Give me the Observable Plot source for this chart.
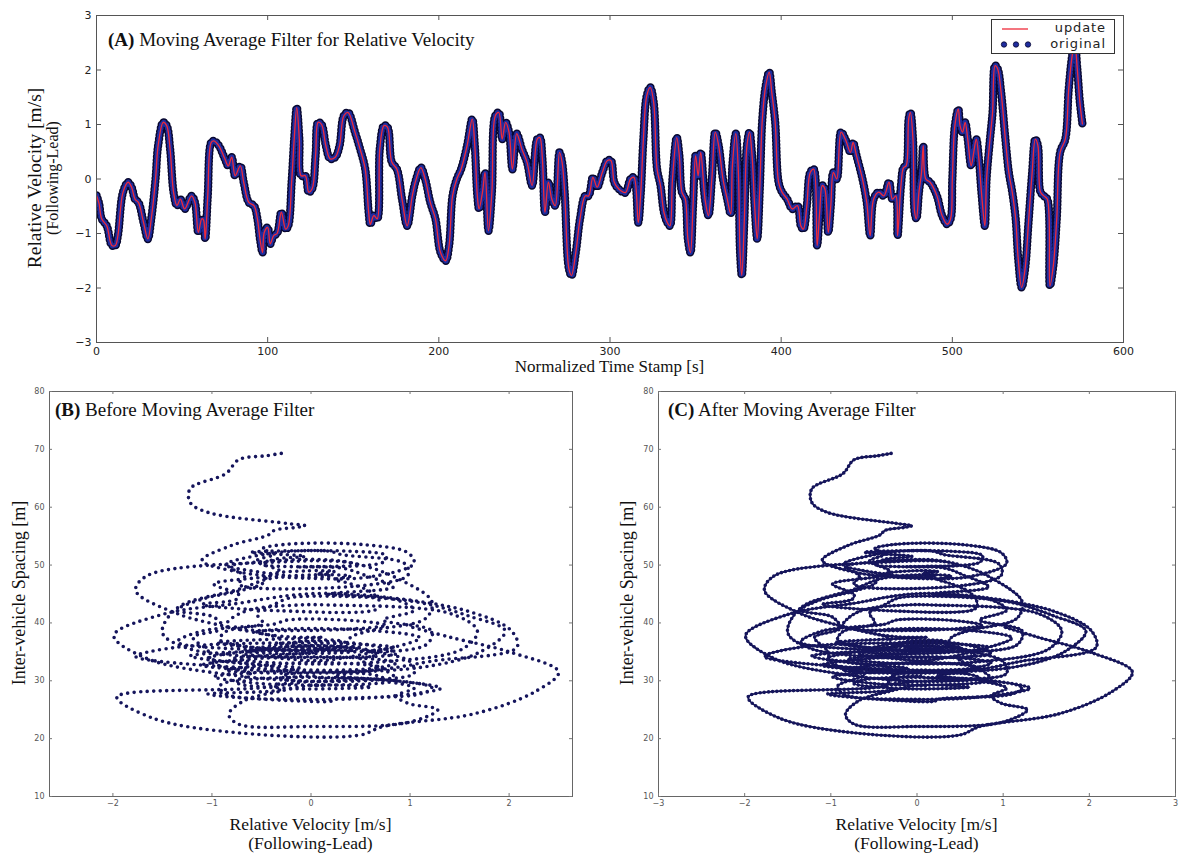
<!DOCTYPE html>
<html>
<head>
<meta charset="utf-8">
<script src="https://cdn.jsdelivr.net/npm/d3@7"></script>
<script src="https://cdn.jsdelivr.net/npm/@observablehq/plot@0.6"></script>
<style>
  html, body { margin: 0; padding: 0; background: #fff; }
  #wrap { position: relative; width: 1180px; height: 854px; overflow: hidden; background: #fff; }
  .abs { position: absolute; }
  .serif { font-family: "Liberation Serif", "Times New Roman", serif; color: #111; white-space: nowrap; }
  .sans { font-family: "DejaVu Sans", sans-serif; color: #222; white-space: nowrap; }
  .rot { transform: rotate(-90deg); transform-origin: 50% 50%; text-align: center; }
  svg { overflow: visible; }
</style>
</head>
<body>
<div id="wrap"></div>
<script>
// ---------- data ----------
const time = [
0,1.5,3,6,9,11,12.5,15.5,18.5,20.5,22.5,24.5,27.5,30,32,34.5,36,39,41,43,
45,47,49,51.5,55.5,57.5,59.5,61.5,62.5,63.5,65,67,68.5,71.5,75,77,79,81,84,86,
89,92,94,95.5,97,98,100,101.5,103.5,105.5,108,110.5,112,114,115.5,117,118.5,119.5,122,124,
126,128,129.5,131.5,134,136.5,139.5,142,144.5,147,151,154,157,159,160,162,164,165.5,168,170,
172.5,175.5,178.5,181.5,184.5,186.5,189.5,192,195,198,201,204,206,208,210.5,213,216.5,219.5,221,222.5,
223.5,225.5,227,229,231,233,235,237,239,241,243,245.5,248.5,251.5,254.5,257.5,259,260.5,262,264,
266,268,270.5,272,273.5,276,277.5,280,282.5,285.5,287.5,290,292.5,295.5,298.5,300.5,302.5,305,309,312,
314,316.5,318,319.5,321.5,323.5,325.5,327.5,329.5,331.5,333.5,335,336.5,339,340.5,342,344,345.5,347,348.5,
350,351.5,353,355.5,357.5,359.5,361.5,363.5,366,368.5,370.5,371.5,373.5,375,376,377,378.5,380,381.5,383,
384.5,386,387.5,389,391,393,394.5,396.5,398.5,400.5,403.5,406.5,409.5,411.5,413,415,417,419,421,422.5,
424,425.5,427.5,429,430.5,432.5,435,437.5,440.5,442,444,447.5,450,452,454,457,460,463,465,467,
468,470,471.5,473,474.5,475.5,477,478,479,480.5,482,483,484.5,487,491,494,497,499,500,501.5,
503.5,504.5,506,507.5,509,511,512.5,514,515.5,517,519,520,522,523.5,525,526.5,528.5,531,533,535,
537,538.5,540.5,542.5,544.5,546.5,548.5,550,551.5,553.5,555.5,557,559,561,563,566,568,570,571.5,573,
574.5,576
];

// relative velocity [m/s] (following - lead)
const velocity = [
-0.30,-0.45,-0.73,-0.86,-1.22,-1.22,-1.04,-0.24,-0.06,-0.15,-0.37,-0.43,-0.80,-1.10,-0.73,0.00,0.61,1.04,0.98,0.55,
-0.24,-0.49,-0.37,-0.55,-0.31,-0.43,-0.98,-0.73,-0.75,-1.10,-0.31,0.67,0.70,0.61,0.37,0.24,0.40,0.06,0.24,-0.06,
-0.43,-0.49,-0.73,-1.10,-1.35,-0.98,-0.89,-1.19,-1.04,-1.00,-0.61,-0.92,-0.86,-0.06,0.73,1.31,0.73,0.06,0.06,-0.24,
-0.18,0.43,1.04,1.00,0.61,0.37,0.40,0.61,1.16,1.22,0.86,0.55,0.18,-0.61,-0.83,-0.67,-0.73,0.55,0.98,0.95,
0.31,0.18,-0.37,-0.86,-0.31,-0.03,0.21,0.00,-0.43,-0.73,-1.35,-1.50,-1.22,-0.31,0.00,0.18,0.61,1.10,0.61,-0.31,
-0.55,-0.24,0.12,-0.95,-0.24,1.16,1.22,0.73,1.04,0.86,0.18,0.83,0.55,0.31,-0.12,0.73,0.76,0.37,-0.61,-0.06,
-0.37,-0.49,0.49,0.31,-0.24,-1.65,-1.77,-1.35,-0.73,-0.31,-0.31,0.03,-0.15,0.12,0.34,0.34,-0.06,-0.18,-0.25,0.00,
0.03,-0.80,-0.24,0.73,1.53,1.68,1.41,0.18,-0.12,-0.61,-0.80,-0.86,0.00,0.76,0.43,-0.24,-0.37,-1.10,-1.35,-0.49,
0.43,0.06,0.49,-0.37,-0.67,0.00,0.86,0.61,0.00,-0.37,-0.64,0.24,0.83,0.12,-1.35,-1.77,-0.73,0.61,0.86,0.43,
-0.49,-1.10,-0.18,1.10,1.71,1.96,1.59,1.04,-0.06,-0.24,-0.37,-0.55,-0.49,-0.86,-0.92,-0.49,0.12,0.18,-1.22,-0.61,
-0.12,-0.18,-0.98,-0.49,0.12,0.00,0.86,0.73,0.49,0.67,0.43,0.00,-0.43,-1.04,-0.37,-0.24,-0.31,-0.06,-0.37,-0.31,
-1.04,-0.12,0.21,0.24,1.10,1.22,0.73,-0.61,-0.73,-0.24,0.12,0.61,0.00,-0.06,-0.31,-0.67,-0.83,-0.73,0.00,0.98,
1.28,0.98,0.86,1.04,0.73,0.24,0.49,0.73,0.37,-0.24,-0.86,0.00,0.73,1.22,2.08,2.02,1.59,0.73,0.12,-0.24,
-0.73,-1.47,-1.99,-1.65,-0.80,0.06,0.73,0.61,-0.24,-0.31,-0.37,-1.96,-1.59,-0.73,0.49,0.73,1.65,2.26,2.50,2.02,
1.41,1.01
];

// inter-vehicle spacing [m]
const spacing = [
69.3,68.9,68.2,65.8,63.2,60.8,59.1,57.2,56.8,56.5,56.0,55.2,53.4,50.8,48.8,47.7,48.0,50.3,52.1,53.5,
53.6,52.8,51.9,50.7,48.9,48.1,46.7,44.9,44.1,43.2,42.1,42.4,43.4,45.3,46.9,47.5,48.1,48.5,48.9,49.0,
48.2,46.8,45.5,44.1,42.2,41.0,39.1,37.5,35.2,33.2,31.1,29.1,27.7,26.8,27.2,28.7,30.2,30.6,30.7,30.5,
30.0,30.2,31.3,33.3,35.2,36.4,37.5,38.7,40.8,43.7,47.8,49.8,50.9,50.4,49.7,48.1,46.7,46.5,48.3,50.2,
51.8,52.4,52.1,50.1,48.3,47.9,48.1,48.3,47.6,45.8,42.6,38.3,35.5,33.9,33.5,33.6,34.9,37.4,38.7,38.9,
38.4,37.6,37.5,36.6,35.4,36.2,38.6,40.5,42.2,44.0,45.0,46.2,48.2,49.5,49.7,50.5,51.6,52.4,52.2,51.5,
51.0,50.1,50.0,50.6,50.6,48.2,45.6,41.6,38.9,37.2,36.5,36.0,35.8,35.6,36.1,36.7,36.9,36.5,35.5,35.0,
34.9,33.8,33.0,33.3,35.5,38.6,41.6,43.1,43.1,42.3,40.8,39.5,38.7,39.6,40.4,40.5,39.8,38.6,36.7,35.3,
35.2,35.5,35.8,35.8,34.7,34.0,34.7,36.1,36.8,36.2,35.1,34.8,35.8,36.5,35.8,34.2,32.3,32.1,33.1,34.0,
33.9,32.7,31.6,32.3,35.0,38.6,41.2,43.7,44.6,44.2,43.2,41.7,40.0,38.5,37.1,35.6,35.2,35.4,34.3,32.8,
32.2,31.9,30.7,29.5,29.2,29.2,30.2,32.0,33.7,34.5,35.6,36.1,35.5,33.9,32.4,31.4,30.4,29.8,29.2,28.5,
27.7,26.5,26.5,26.8,27.7,28.8,30.2,30.2,29.5,28.7,28.6,28.9,29.3,29.1,28.2,26.6,24.2,22.5,22.1,22.8,
25.0,26.1,27.4,28.7,30.0,30.9,31.4,32.2,33.0,33.0,31.8,31.3,32.0,33.4,35.8,38.7,42.0,44.5,45.1,44.7,
43.4,41.6,37.8,33.8,31.0,29.9,30.4,31.1,31.1,30.2,29.2,27.2,23.5,21.0,20.6,22.1,24.3,28.1,31.5,34.9,
37.5,39.3
];

const xTicksA = [0, 100, 200, 300, 400, 500, 600];
const yTicksA = [-3, -2, -1, 0, 1, 2, 3];
const xTicksB = [-2, -1, 0, 1, 2];
const xTicksC = [-3, -2, -1, 0, 1, 2, 3];
const yTicksBC = [10, 20, 30, 40, 50, 60, 70, 80];

const rows = time.map((t, i) => ({t, v: velocity[i], s: spacing[i]}));

const fmt = d => (d < 0 ? "\u2212" : "") + Math.abs(d);
const wrap = document.getElementById("wrap");

function place(node, left, top) {
  node.style.position = "absolute";
  node.style.left = left + "px";
  node.style.top = top + "px";
  wrap.appendChild(node);
}
function addDiv(html, cls, css) {
  const d = document.createElement("div");
  d.className = "abs " + cls;
  d.innerHTML = html;
  Object.assign(d.style, css);
  wrap.appendChild(d);
  return d;
}
function tickMarks(xt, yt, pw, ph, len, stroke) {
  return [
    Plot.tickX(xt, {x: d => d, insetTop: ph - len, stroke}),
    Plot.tickX(xt, {x: d => d, insetBottom: ph - len, stroke}),
    Plot.tickY(yt, {y: d => d, insetRight: pw - len, stroke}),
    Plot.tickY(yt, {y: d => d, insetLeft: pw - len, stroke})
  ];
}

// ---------- Panel A ----------
{
  const W = 1180, H = 390, mL = 96, mR = 57, mT = 15, mB = 48;
  const pw = W - mL - mR, ph = H - mT - mB;
  const chart = Plot.plot({
    width: W, height: H,
    marginLeft: mL, marginRight: mR, marginTop: mT, marginBottom: mB,
    x: {domain: [0, 600]},
    y: {domain: [-3, 3]},
    style: {fontFamily: "DejaVu Sans", fontSize: "11px", color: "#222", background: "transparent"},
    marks: [
      Plot.line(rows, {x: "t", y: "v", curve: "catmull-rom", stroke: "#080830", strokeWidth: 8.4,
        strokeDasharray: "0,3.6", strokeLinecap: "round", clip: true}),
      Plot.line(rows, {x: "t", y: "v", curve: "catmull-rom", stroke: "#1f2c9e", strokeWidth: 5.4,
        strokeDasharray: "0,3.6", strokeLinecap: "round", clip: true}),
      Plot.line(rows, {x: "t", y: "v", curve: "catmull-rom", stroke: "#ee2a3a", strokeWidth: 1.3, clip: true}),
      Plot.frame({stroke: "#555"}),
      ...tickMarks(xTicksA, yTicksA, pw, ph, 5, "#555"),
      Plot.axisX(xTicksA, {tickSize: 0, tickPadding: 5, tickFormat: fmt, label: null}),
      Plot.axisY(yTicksA, {tickSize: 0, tickPadding: 5, tickFormat: fmt, label: null})
    ]
  });
  place(chart, 0, 0);

  addDiv("<b>(A)</b> Moving Average Filter for Relative Velocity", "serif",
    {left: "108px", top: "29px", fontSize: "19px", lineHeight: "21px"});
  addDiv("Normalized Time Stamp [s]", "serif",
    {left: mL + "px", top: "357px", width: pw + "px", textAlign: "center", fontSize: "17px", lineHeight: "19px"});
  addDiv('<div style="font-size:19.5px;line-height:19px">Relative Velocity [m/s]</div>' +
         '<div style="font-size:16px;line-height:17px">(Following-Lead)</div>', "serif rot",
    {left: (43 - 165) + "px", top: (178 - 18) + "px", width: "330px", height: "36px"});

  // legend (drawn over the data, like the reference)
  const lg = addDiv("", "sans", {left: "991px", top: "19px", width: "122px", height: "33px",
    border: "1px solid #333", background: "#fff", fontSize: "13px", letterSpacing: "0.9px"});
  lg.innerHTML =
    '<svg width="122" height="33" style="position:absolute;left:0;top:0">' +
    '<line x1="10" x2="36" y1="9" y2="9" stroke="#ee2a3a" stroke-width="1.3"/>' +
    '<circle cx="12" cy="24.5" r="2.7" fill="#1f2c9e" stroke="#080830" stroke-width="0.8"/>' +
    '<circle cx="24" cy="24.5" r="2.7" fill="#1f2c9e" stroke="#080830" stroke-width="0.8"/>' +
    '<circle cx="36" cy="24.5" r="2.7" fill="#1f2c9e" stroke="#080830" stroke-width="0.8"/>' +
    '</svg>' +
    '<div style="position:absolute;right:8px;top:0px;line-height:16px">update</div>' +
    '<div style="position:absolute;right:8px;top:16px;line-height:16px">original</div>';
}

// ---------- Panel B / C ----------
function scatterPanel(opts) {
  const {left, W, mL, mR, xDomain, xTicks, dash, withLine} = opts;
  const H = 440, mT = 11, mB = 24;
  const pw = W - mL - mR, ph = H - mT - mB;
  const marks = [];
  if (withLine) {
    marks.push(Plot.line(rows, {x: "v", y: "s", curve: "catmull-rom", stroke: "#12124e", strokeWidth: 1.8, clip: true}));
  }
  marks.push(
    Plot.line(rows, {x: "v", y: "s", curve: "catmull-rom", stroke: "#15155c", strokeWidth: 3.6,
      strokeDasharray: dash, strokeLinecap: "round", clip: true}),
    Plot.frame({stroke: "#666"}),
    ...tickMarks(xTicks, yTicksBC, pw, ph, 3, "#777"),
    Plot.axisX(xTicks, {tickSize: 0, tickPadding: 4, tickFormat: fmt, label: null}),
    Plot.axisY(yTicksBC, {tickSize: 0, tickPadding: 5, tickFormat: fmt, label: null})
  );
  const chart = Plot.plot({
    width: W, height: H,
    marginLeft: mL, marginRight: mR, marginTop: mT, marginBottom: mB,
    x: {domain: xDomain},
    y: {domain: [10, 80]},
    style: {fontFamily: "DejaVu Sans", fontSize: "8px", color: "#555", background: "transparent"},
    marks
  });
  place(chart, left, 380);
  return {plotLeft: left + mL, pw};
}

{
  const b = scatterPanel({left: 0, W: 590, mL: 49, mR: 18, xDomain: [-2.64, 2.64], xTicks: xTicksB,
    dash: "0,6.5", withLine: false});
  addDiv("<b>(B)</b> Before Moving Average Filter", "serif",
    {left: "55px", top: "399px", fontSize: "19px", lineHeight: "21px"});
  addDiv("Inter-vehicle Spacing [m]", "serif rot",
    {left: (19 - 150) + "px", top: (593 - 11) + "px", width: "300px", height: "22px", fontSize: "18px", lineHeight: "22px"});
  addDiv("Relative Velocity [m/s]<br>(Following-Lead)", "serif",
    {left: b.plotLeft + "px", top: "815px", width: b.pw + "px", textAlign: "center", fontSize: "17.5px", lineHeight: "19px"});

  const c = scatterPanel({left: 600, W: 576, mL: 58, mR: 1, xDomain: [-3, 3], xTicks: xTicksC,
    dash: "0,4.2", withLine: true});
  addDiv("<b>(C)</b> After Moving Average Filter", "serif",
    {left: "668px", top: "399px", fontSize: "19px", lineHeight: "21px"});
  addDiv("Inter-vehicle Spacing [m]", "serif rot",
    {left: (627 - 150) + "px", top: (593 - 11) + "px", width: "300px", height: "22px", fontSize: "18px", lineHeight: "22px"});
  addDiv("Relative Velocity [m/s]<br>(Following-Lead)", "serif",
    {left: c.plotLeft + "px", top: "815px", width: c.pw + "px", textAlign: "center", fontSize: "17.5px", lineHeight: "19px"});
}
</script>
</body>
</html>
